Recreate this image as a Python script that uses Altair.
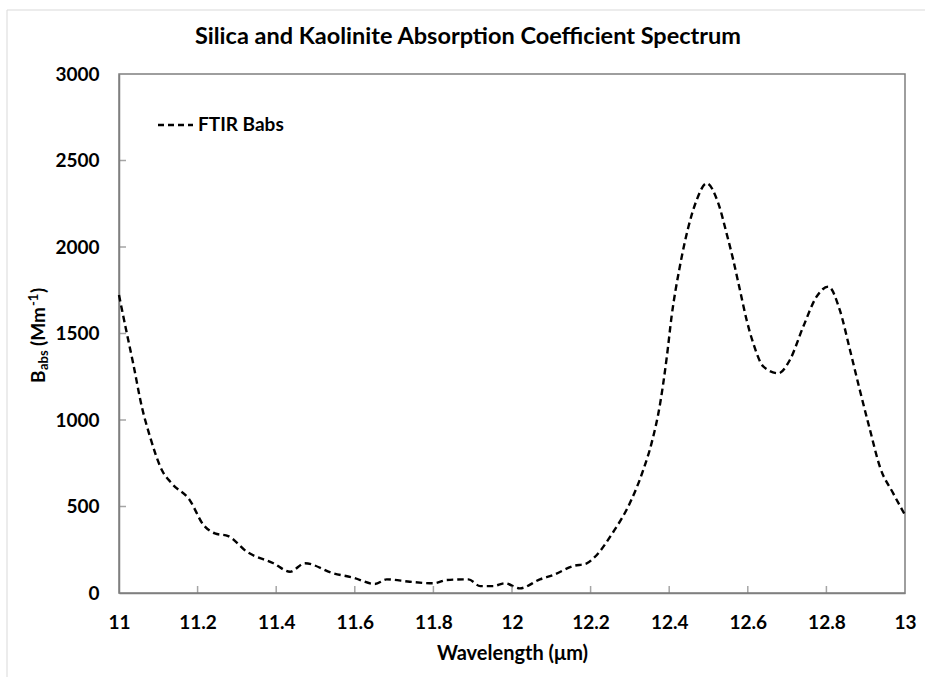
import altair as alt
import pandas as pd

# ---- data ----
wavelength = [11.000, 11.020, 11.036, 11.058, 11.079, 11.109, 11.134, 11.180, 11.215, 11.244,
              11.278, 11.325, 11.393, 11.435, 11.473, 11.545, 11.596, 11.651, 11.681, 11.740,
              11.800, 11.834, 11.889, 11.919, 11.952, 11.982, 12.020, 12.071, 12.105, 12.156,
              12.190, 12.207, 12.258, 12.300, 12.334, 12.355, 12.377, 12.394, 12.406, 12.427,
              12.449, 12.470, 12.495, 12.525, 12.546, 12.563, 12.580, 12.597, 12.614, 12.640,
              12.678, 12.707, 12.741, 12.775, 12.805, 12.834, 12.860, 12.885, 12.911, 12.936,
              12.970, 13.000]
babs = [1722, 1500, 1328, 1077, 903, 711, 634, 537, 393, 345,
        329, 239, 172, 123, 172, 114, 89, 52, 79, 65,
        56, 75, 79, 40, 40, 56, 27, 79, 104, 156,
        171, 200, 354, 520, 711, 865, 1096, 1366, 1597, 1886,
        2117, 2272, 2368, 2252, 2079, 1925, 1751, 1578, 1443, 1308,
        1270, 1347, 1539, 1713, 1771, 1636, 1405, 1173, 942, 730,
        576, 451]
series_name = ["FTIR Babs"]
x_ticks = [11.0, 11.2, 11.4, 11.6, 11.8, 12.0, 12.2, 12.4, 12.6, 12.8, 13.0]
y_ticks = [0, 500, 1000, 1500, 2000, 2500, 3000]
title_text = ["Silica and Kaolinite Absorption Coefficient Spectrum"]
x_title = "Wavelength (\u03bcm)"

FONT = "Lato"
W, H = 786, 519
AXIS_GREY = "#7f7f7f"
DASH = [6.5, 4]

df = pd.DataFrame({"wl": wavelength, "babs": babs})
xt = pd.DataFrame({"t": x_ticks[1:-1]})
yt = pd.DataFrame({"t": y_ticks[1:-1]})
leg = pd.DataFrame({"label": series_name})
ttl = pd.DataFrame({"label": title_text})

xscale = alt.Scale(domain=[11, 13], nice=False, zero=False)
yscale = alt.Scale(domain=[0, 3000], nice=False)

line = alt.Chart(df).mark_line(
    color="black", strokeWidth=2.4, strokeDash=DASH, interpolate="monotone"
).encode(
    x=alt.X("wl:Q", scale=xscale,
            axis=alt.Axis(values=x_ticks, format=".1~f", title=x_title, ticks=False,
                          labelFlush=False, labelOverlap=False,
                          labelPadding=20, titlePadding=11, grid=False)),
    y=alt.Y("babs:Q", scale=yscale,
            axis=alt.Axis(values=y_ticks, format="d", title=None, ticks=False,
                          labelFlush=False, labelOverlap=False,
                          labelPadding=20, grid=False)),
)

xtick_marks = alt.Chart(xt).mark_tick(
    orient="vertical", color=AXIS_GREY, thickness=1.5, size=7
).encode(x=alt.X("t:Q", scale=xscale), y=alt.value(H - 3.5))

ytick_marks = alt.Chart(yt).mark_tick(
    orient="horizontal", color=AXIS_GREY, thickness=1.5, size=7
).encode(y=alt.Y("t:Q", scale=yscale), x=alt.value(3.5))

leg_line = alt.Chart(leg).mark_rule(
    color="black", strokeWidth=2.4, strokeDash=[6, 4]
).encode(x=alt.value(39), x2=alt.value(74), y=alt.value(51))

leg_text = alt.Chart(leg).mark_text(
    font=FONT, fontWeight="bold", fontSize=19, align="left", baseline="middle", color="black"
).encode(x=alt.value(79), y=alt.value(51), text="label:N")

title_mark = alt.Chart(ttl).mark_text(
    font=FONT, fontWeight="bold", fontSize=23.5, align="center", baseline="middle", color="black"
).encode(x=alt.value(349), y=alt.value(-37), text="label:N")

# y-axis title with subscript and superscript, rotated
def ytitle_piece(txt, size, xpos, ypos):
    return alt.Chart(pd.DataFrame({"s": [txt]})).mark_text(
        font=FONT, fontWeight="bold", fontSize=size, angle=270, align="left",
        baseline="alphabetic", color="black"
    ).encode(x=alt.value(xpos), y=alt.value(ypos), text="s:N")

yt_parts = [
    ytitle_piece("B", 19, -74, 309),
    ytitle_piece("abs", 13, -71, 296),
    ytitle_piece("(Mm", 19, -74, 272),
    ytitle_piece("-1", 13, -81, 232),
    ytitle_piece(")", 19, -74, 219),
]

border = alt.Chart(leg).mark_rect(
    fill=None, stroke="#d9d9d9", strokeWidth=1
).encode(x=alt.value(-112), x2=alt.value(820), y=alt.value(-64), y2=alt.value(620))

chart = alt.layer(
    border, line, xtick_marks, ytick_marks, leg_line, leg_text, title_mark, *yt_parts
).properties(
    width=W, height=H,
    background="white",
    autosize=alt.AutoSizeParams(type="none"),
    padding={"left": 119, "top": 74, "right": 20, "bottom": 84},
).configure_view(
    stroke=AXIS_GREY, strokeWidth=1.5
).configure_axis(
    domainColor=AXIS_GREY, domainWidth=1.5,
    labelFont=FONT, labelFontSize=19, labelFontWeight="bold", labelColor="black",
    titleFont=FONT, titleFontSize=20, titleFontWeight="bold", titleColor="black",
)

chart.save("out.html", embed_options={"renderer": "svg", "actions": False})
